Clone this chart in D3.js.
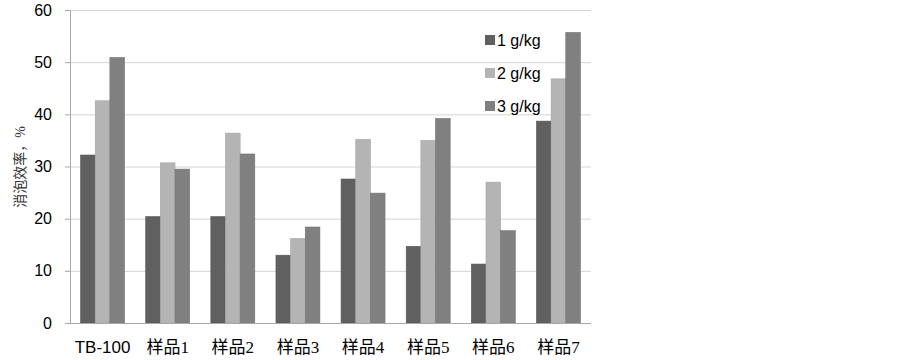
<!DOCTYPE html>
<html>
<head>
<meta charset="utf-8">
<script src="https://cdn.jsdelivr.net/npm/d3@7"></script>
<style>
  body { margin: 0; background: #fff; }
  svg { display: block; }
</style>
</head>
<body>
<svg id="chart" width="903" height="360"></svg>
<script>
const categories = ["TB-100", "样品1", "样品2", "样品3", "样品4", "样品5", "样品6", "样品7"];
const seriesNames = ["1 g/kg", "2 g/kg", "3 g/kg"];
const dose1 = [32.2, 20.4, 20.4, 13.0, 27.6, 14.7, 11.3, 38.7];
const dose2 = [42.6, 30.7, 36.4, 16.2, 35.2, 35.0, 27.0, 46.8];
const dose3 = [50.9, 29.5, 32.4, 18.4, 24.9, 39.2, 17.7, 55.7];
const yTicks = [0, 10, 20, 30, 40, 50, 60];
const colors = ["#606060", "#b4b4b4", "#808080"];

const series = [dose1, dose2, dose3];
const data = categories.map((c, i) => ({ cat: c, vals: series.map((s) => s[i]) }));

const dims = { left: 70, right: 591, top: 10, bottom: 323 };
const svg = d3.select("#chart");

const x = d3.scaleBand().domain(categories).range([dims.left, dims.right]).paddingInner(0.325).paddingOuter(0.1625);
const xs = d3.scaleBand().domain(d3.range(3)).range([0, x.bandwidth()]);
const y = d3.scaleLinear().domain([0, 60]).range([dims.bottom, dims.top]);

// gridlines
svg.append("g")
  .selectAll("line")
  .data(yTicks.filter((t) => t > 0))
  .join("line")
  .attr("x1", dims.left)
  .attr("x2", dims.right)
  .attr("y1", (d) => y(d) + 0.5)
  .attr("y2", (d) => y(d) + 0.5)
  .attr("stroke", "#d4d4d4")
  .attr("stroke-width", 1);

// bars
const groups = svg.append("g")
  .selectAll("g")
  .data(data)
  .join("g")
  .attr("transform", (d) => `translate(${x(d.cat)},0)`);

groups.selectAll("rect")
  .data((d) => d.vals.map((v, k) => ({ v, k })))
  .join("rect")
  .attr("x", (d) => xs(d.k))
  .attr("y", (d) => y(d.v))
  .attr("width", xs.bandwidth())
  .attr("height", (d) => y(0) - y(d.v))
  .attr("fill", (d) => colors[d.k])
  .attr("stroke", (d) => d3.color(colors[d.k]).darker(0.25))
  .attr("stroke-width", 0.6);

// y axis
const yAxis = d3.axisLeft(y).tickValues(yTicks).tickSize(5).tickPadding(13);
svg.append("g")
  .attr("transform", `translate(${dims.left},0)`)
  .call(yAxis)
  .call((g) => g.select(".domain").attr("stroke", "#a8a8a8"))
  .call((g) => g.selectAll(".tick line").attr("stroke", "#a8a8a8"))
  .call((g) => g.selectAll(".tick text")
    .attr("font-family", "Liberation Sans, Arial, sans-serif")
    .attr("font-size", 16)
    .attr("fill", "#000"));

// x baseline
svg.append("line")
  .attr("x1", dims.left)
  .attr("x2", dims.right)
  .attr("y1", y(0) + 0.5)
  .attr("y2", y(0) + 0.5)
  .attr("stroke", "#a8a8a8");

// x labels
svg.append("g")
  .selectAll("text")
  .data(categories)
  .join("text")
  .attr("x", (d) => x(d) + x.bandwidth() / 2)
  .attr("y", 353)
  .attr("text-anchor", "middle")
  .attr("font-size", 17)
  .attr("font-family", (d, i) => i === 0 ? "Liberation Sans, Arial, sans-serif" : "Liberation Serif, 'Noto Sans CJK SC', serif")
  .attr("fill", "#000")
  .text((d) => d);

// y label
svg.append("text")
  .attr("transform", "translate(25,167) rotate(-90)")
  .attr("text-anchor", "middle")
  .attr("font-size", 14)
  .attr("font-family", "Liberation Serif, 'Noto Sans CJK SC', serif")
  .attr("fill", "#333")
  .text("消泡效率，%");

// legend
const legend = svg.append("g")
  .selectAll("g")
  .data(seriesNames)
  .join("g")
  .attr("transform", (d, i) => `translate(485,${40 + i * 33})`);
legend.append("rect")
  .attr("x", 0).attr("y", -5)
  .attr("width", 10).attr("height", 10)
  .attr("fill", (d, i) => colors[i]);
legend.append("text")
  .attr("x", 12).attr("y", 5.5)
  .attr("font-size", 16)
  .attr("font-family", "Liberation Sans, Arial, sans-serif")
  .attr("fill", "#000")
  .text((d) => d);
</script>
</body>
</html>
